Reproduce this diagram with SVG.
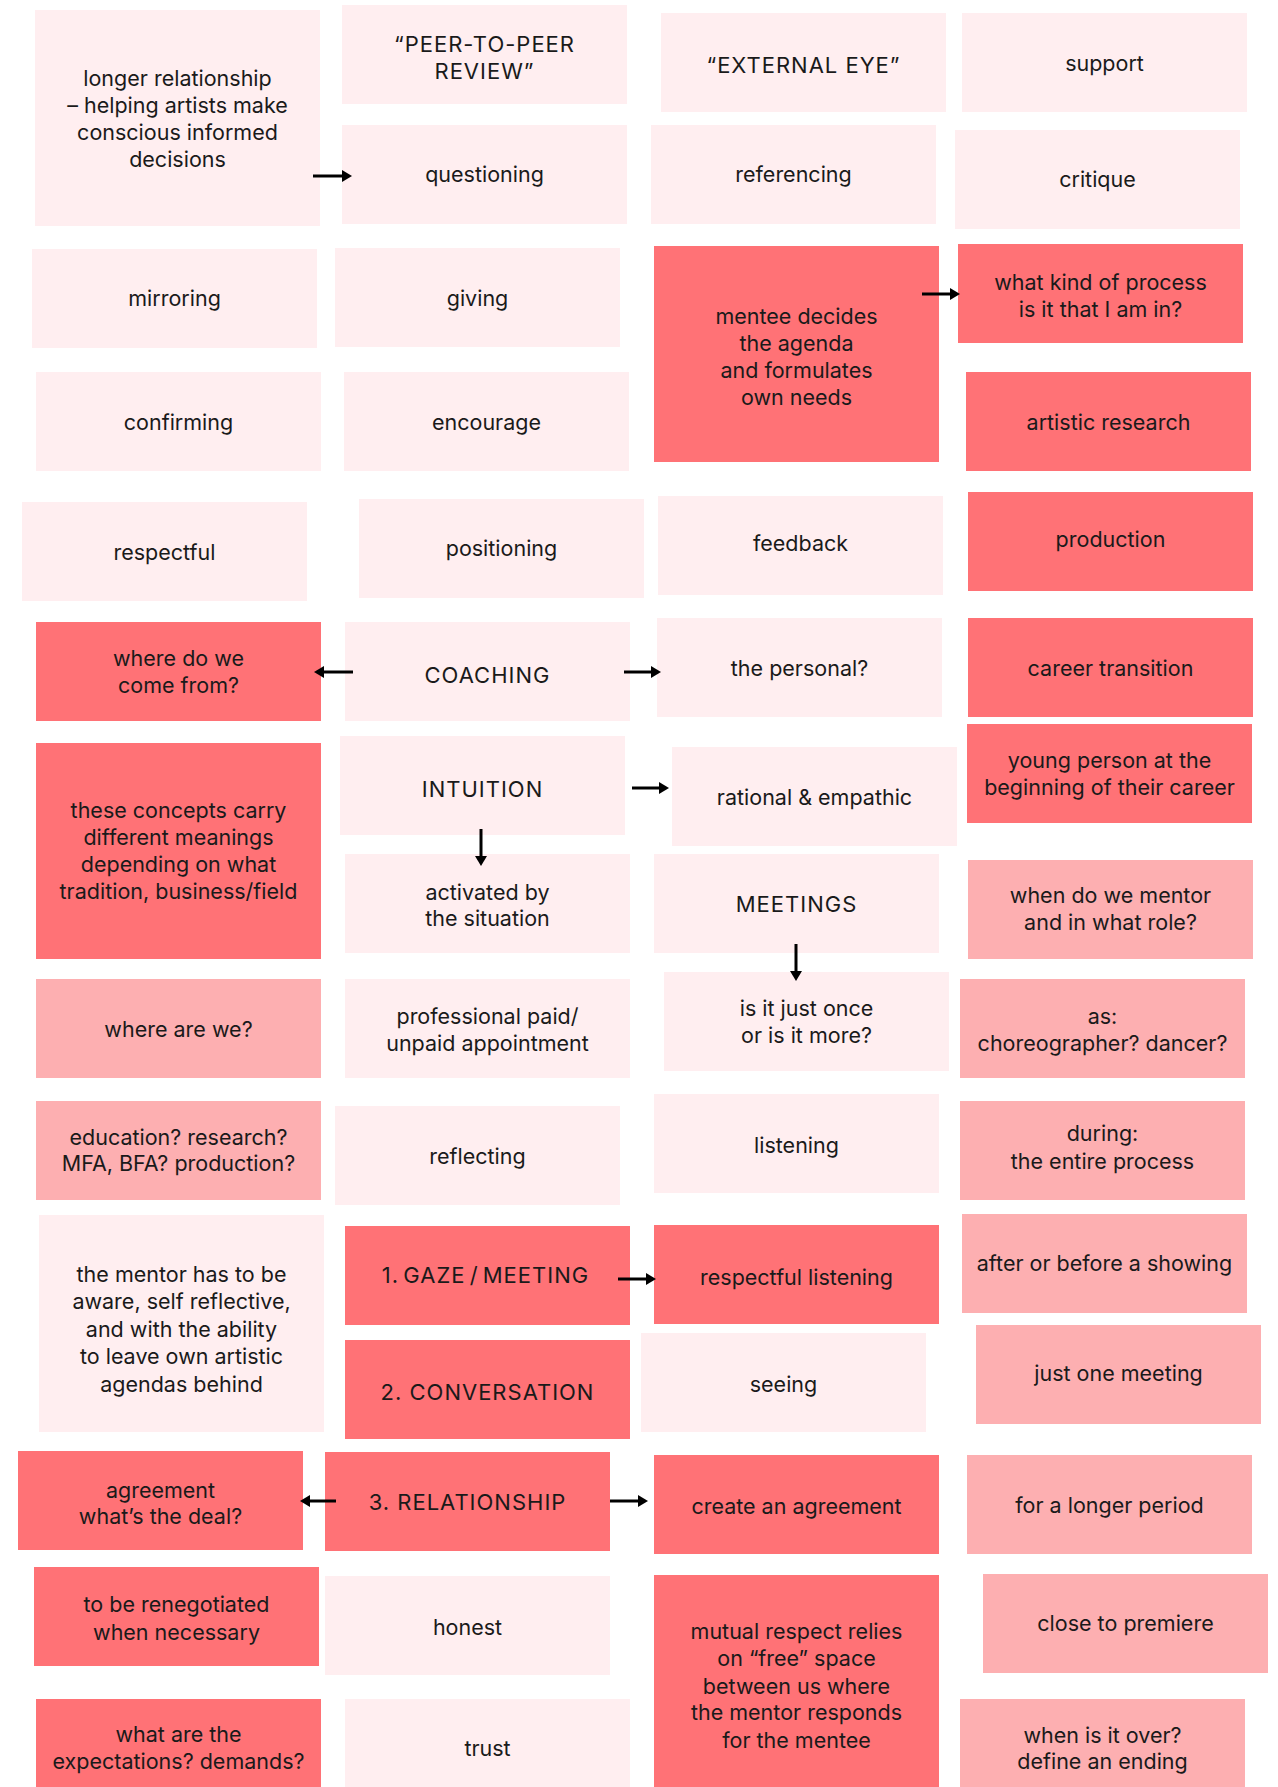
<svg xmlns="http://www.w3.org/2000/svg" width="1278" height="1787" viewBox="0 0 1278 1787">
<defs>
<style>
.l{fill:#FFEEF0}
.c{fill:#FF7276}
.m{fill:#FDAFB1}
text{font-family:Inter,"Liberation Sans",sans-serif;font-size:21.5px;text-anchor:middle;fill:#1a1a1a}
.cap{letter-spacing:1px;font-size:22px}
.gz{word-spacing:-3px}
.ar{stroke:#000;stroke-width:3;fill:none;marker-end:url(#ah)}
</style>
<marker id="ah" markerUnits="userSpaceOnUse" markerWidth="10" markerHeight="12" refX="1" refY="6" orient="auto">
<path d="M0,0 L10,6 L0,12 z" fill="#000"/>
</marker>
</defs>
<rect width="1278" height="1787" fill="#fff"/>

<g id="n1"><rect class="l" x="35" y="10" width="285" height="216"/><text x="177.5"><tspan x="177.5" y="86">longer relationship</tspan><tspan x="177.5" y="113">– helping artists make</tspan><tspan x="177.5" y="140">conscious informed</tspan><tspan x="177.5" y="167">decisions</tspan></text></g>
<g id="n2"><rect class="l" x="342" y="5" width="285" height="99"/><text class="cap"><tspan x="484.5" y="52.4">“PEER-TO-PEER</tspan><tspan x="484.5" y="78.8">REVIEW”</tspan></text></g>
<g id="n3"><rect class="l" x="342" y="125" width="285" height="99"/><text x="484.5" y="182">questioning</text></g>
<g id="n4"><rect class="l" x="661" y="13" width="285" height="99"/><text class="cap" x="803.5" y="72.6">“EXTERNAL EYE”</text></g>
<g id="n5"><rect class="l" x="962" y="13" width="285" height="99"/><text x="1104.5" y="71">support</text></g>
<g id="n6"><rect class="l" x="651" y="125" width="285" height="99"/><text x="793.5" y="182">referencing</text></g>
<g id="n7"><rect class="l" x="955" y="130" width="285" height="99"/><text x="1097.5" y="187">critique</text></g>
<g id="n8"><rect class="l" x="32" y="249" width="285" height="99"/><text x="174.5" y="306">mirroring</text></g>
<g id="n9"><rect class="l" x="335" y="248" width="285" height="99"/><text x="477.5" y="306">giving</text></g>
<g id="n10"><rect class="c" x="654" y="246" width="285" height="216"/><text><tspan x="796.5" y="323.6">mentee decides</tspan><tspan x="796.5" y="350.8">the agenda</tspan><tspan x="796.5" y="378">and formulates</tspan><tspan x="796.5" y="404.8">own needs</tspan></text></g>
<g id="n11"><rect class="c" x="958" y="244" width="285" height="99"/><text><tspan x="1100.5" y="290">what kind of process</tspan><tspan x="1100.5" y="316.7">is it that I am in?</tspan></text></g>
<g id="n12"><rect class="l" x="36" y="372" width="285" height="99"/><text x="178.5" y="430">confirming</text></g>
<g id="n13"><rect class="l" x="344" y="372" width="285" height="99"/><text x="486.5" y="430">encourage</text></g>
<g id="n14"><rect class="c" x="966" y="372" width="285" height="99"/><text x="1108.5" y="430">artistic research</text></g>
<g id="n15"><rect class="l" x="22" y="502" width="285" height="99"/><text x="164.5" y="560">respectful</text></g>
<g id="n16"><rect class="l" x="359" y="499" width="285" height="99"/><text x="501.5" y="556">positioning</text></g>
<g id="n17"><rect class="l" x="658" y="496" width="285" height="99"/><text x="800.5" y="551">feedback</text></g>
<g id="n18"><rect class="c" x="968" y="492" width="285" height="99"/><text x="1110.5" y="547">production</text></g>
<g id="n19"><rect class="c" x="36" y="622" width="285" height="99"/><text><tspan x="178.5" y="666">where do we</tspan><tspan x="178.5" y="692.5">come from?</tspan></text></g>
<g id="n20"><rect class="l" x="345" y="622" width="285" height="99"/><text class="cap" x="487.5" y="682.6">COACHING</text></g>
<g id="n21"><rect class="l" x="657" y="618" width="285" height="99"/><text x="799.5" y="676">the personal?</text></g>
<g id="n22"><rect class="c" x="968" y="618" width="285" height="99"/><text x="1110.5" y="676">career transition</text></g>
<g id="n23"><rect class="c" x="36" y="743" width="285" height="216"/><text><tspan x="178.5" y="817.6">these concepts carry</tspan><tspan x="178.5" y="844.8">different meanings</tspan><tspan x="178.5" y="871.6">depending on what</tspan><tspan x="178.5" y="899">tradition, business/field</tspan></text></g>
<g id="n24"><rect class="l" x="340" y="736" width="285" height="99"/><text class="cap" x="482.5" y="796.6">INTUITION</text></g>
<g id="n25"><rect class="l" x="672" y="747" width="285" height="99"/><text x="814.5" y="804.6">rational &amp; empathic</text></g>
<g id="n26"><rect class="c" x="967" y="724" width="285" height="99"/><text><tspan x="1109.5" y="768.3">young person at the</tspan><tspan x="1109.5" y="795">beginning of their career</tspan></text></g>
<g id="n27"><rect class="l" x="345" y="854" width="285" height="99"/><text><tspan x="487.5" y="899.5">activated by</tspan><tspan x="487.5" y="926">the situation</tspan></text></g>
<g id="n28"><rect class="l" x="654" y="854" width="285" height="99"/><text class="cap" x="796.5" y="912">MEETINGS</text></g>
<g id="n29"><rect class="m" x="968" y="860" width="285" height="99"/><text><tspan x="1110.5" y="903">when do we mentor</tspan><tspan x="1110.5" y="929.8">and in what role?</tspan></text></g>
<g id="n30"><rect class="m" x="36" y="979" width="285" height="99"/><text x="178.5" y="1037">where are we?</text></g>
<g id="n31"><rect class="l" x="345" y="979" width="285" height="99"/><text><tspan x="487.5" y="1024">professional paid/</tspan><tspan x="487.5" y="1050.7">unpaid appointment</tspan></text></g>
<g id="n32"><rect class="l" x="664" y="972" width="285" height="99"/><text><tspan x="806.5" y="1016">is it just once</tspan><tspan x="806.5" y="1042.7">or is it more?</tspan></text></g>
<g id="n33"><rect class="m" x="960" y="979" width="285" height="99"/><text><tspan x="1102.5" y="1024.3">as:</tspan><tspan x="1102.5" y="1050.7">choreographer? dancer?</tspan></text></g>
<g id="n34"><rect class="m" x="36" y="1101" width="285" height="99"/><text><tspan x="178.5" y="1144.5">education? research?</tspan><tspan x="178.5" y="1171.3">MFA, BFA? production?</tspan></text></g>
<g id="n35"><rect class="l" x="335" y="1106" width="285" height="99"/><text x="477.5" y="1163.6">reflecting</text></g>
<g id="n36"><rect class="l" x="654" y="1094" width="285" height="99"/><text x="796.5" y="1152.5">listening</text></g>
<g id="n37"><rect class="m" x="960" y="1101" width="285" height="99"/><text><tspan x="1102.5" y="1141">during:</tspan><tspan x="1102.5" y="1168.6">the entire process</tspan></text></g>
<g id="n38"><rect class="l" x="39" y="1215" width="285" height="217"/><text><tspan x="181.5" y="1282">the mentor has to be</tspan><tspan x="181.5" y="1309.3">aware, self reflective,</tspan><tspan x="181.5" y="1336.5">and with the ability</tspan><tspan x="181.5" y="1364.4">to leave own artistic</tspan><tspan x="181.5" y="1392">agendas behind</tspan></text></g>
<g id="n39"><rect class="c" x="345" y="1226" width="285" height="99"/><text class="cap gz" x="485.5" y="1283">1. GAZE / MEETING</text></g>
<g id="n40"><rect class="c" x="654" y="1225" width="285" height="99"/><text x="796.5" y="1284.8">respectful listening</text></g>
<g id="n41"><rect class="m" x="962" y="1214" width="285" height="99"/><text x="1104.5" y="1271">after or before a showing</text></g>
<g id="n42"><rect class="c" x="345" y="1340" width="285" height="99"/><text class="cap" x="487.5" y="1399.6">2. CONVERSATION</text></g>
<g id="n43"><rect class="l" x="641" y="1333" width="285" height="99"/><text x="783.5" y="1392">seeing</text></g>
<g id="n44"><rect class="m" x="976" y="1325" width="285" height="99"/><text x="1118.5" y="1381">just one meeting</text></g>
<g id="n45"><rect class="c" x="18" y="1451" width="285" height="99"/><text><tspan x="160.5" y="1497.6">agreement</tspan><tspan x="160.5" y="1524.4">what’s the deal?</tspan></text></g>
<g id="n46"><rect class="c" x="325" y="1452" width="285" height="99"/><text class="cap" x="467.5" y="1509.6">3. RELATIONSHIP</text></g>
<g id="n47"><rect class="c" x="654" y="1455" width="285" height="99"/><text x="796.5" y="1514">create an agreement</text></g>
<g id="n48"><rect class="m" x="967" y="1455" width="285" height="99"/><text x="1109.5" y="1513">for a longer period</text></g>
<g id="n49"><rect class="c" x="34" y="1567" width="285" height="99"/><text><tspan x="176.5" y="1612">to be renegotiated</tspan><tspan x="176.5" y="1640">when necessary</tspan></text></g>
<g id="n50"><rect class="l" x="325" y="1576" width="285" height="99"/><text x="467.5" y="1635">honest</text></g>
<g id="n51"><rect class="c" x="654" y="1575" width="285" height="216"/><text><tspan x="796.5" y="1639">mutual respect relies</tspan><tspan x="796.5" y="1666.3">on “free” space</tspan><tspan x="796.5" y="1693.5">between us where</tspan><tspan x="796.5" y="1720.3">the mentor responds</tspan><tspan x="796.5" y="1747.5">for the mentee</tspan></text></g>
<g id="n52"><rect class="m" x="983" y="1574" width="285" height="99"/><text x="1125.5" y="1631">close to premiere</text></g>
<g id="n53"><rect class="c" x="36" y="1699" width="285" height="99"/><text><tspan x="178.5" y="1742">what are the</tspan><tspan x="178.5" y="1769">expectations? demands?</tspan></text></g>
<g id="n54"><rect class="l" x="345" y="1699" width="285" height="99"/><text x="487.5" y="1755.5">trust</text></g>
<g id="n55"><rect class="m" x="960" y="1699" width="285" height="99"/><text><tspan x="1102.5" y="1742.5">when is it over?</tspan><tspan x="1102.5" y="1769.3">define an ending</tspan></text></g>

<g id="connectors">
<line class="ar" x1="313" y1="176" x2="343" y2="176"/>
<line class="ar" x1="922" y1="294" x2="951" y2="294"/>
<line class="ar" x1="353" y1="672" x2="323" y2="672"/>
<line class="ar" x1="624" y1="672" x2="652" y2="672"/>
<line class="ar" x1="632" y1="788" x2="660" y2="788"/>
<line class="ar" x1="481" y1="829" x2="481" y2="857"/>
<line class="ar" x1="796" y1="944" x2="796" y2="972"/>
<line class="ar" x1="618" y1="1279" x2="647" y2="1279"/>
<line class="ar" x1="336" y1="1501" x2="309" y2="1501"/>
<line class="ar" x1="610" y1="1501" x2="639" y2="1501"/>
</g>
</svg>
